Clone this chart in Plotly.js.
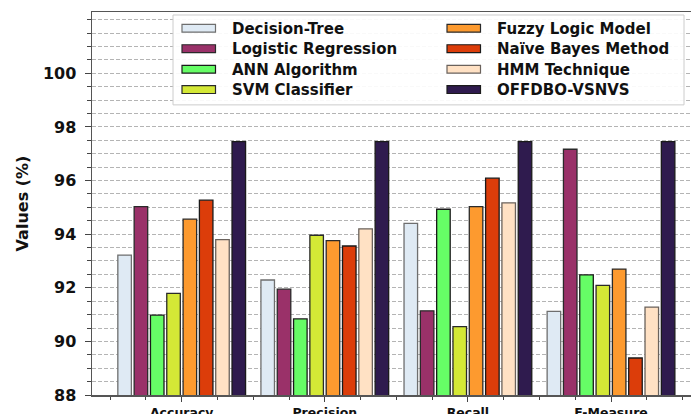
<!DOCTYPE html>
<html>
<head>
<meta charset="utf-8">
<script src="https://cdn.plot.ly/plotly-3.0.1.min.js"></script>
<style>
html, body { margin: 0; padding: 0; background: #fff; }
#chart { width: 691px; height: 414px; }
</style>
</head>
<body>
<div id="chart"></div>
<script>
// ---- Data ----
const categories = ['Accuracy', 'Precision', 'Recall', 'F-Measure'];
const seriesNames = ['Decision-Tree', 'Logistic Regression', 'ANN Algorithm', 'SVM Classifier',
                     'Fuzzy Logic Model', 'Naïve Bayes Method', 'HMM Technique', 'OFFDBO-VSNVS'];
const decisionTree       = [93.22, 92.29, 94.40, 91.12];
const logisticRegression = [95.03, 91.95, 91.14, 97.17];
const annAlgorithm       = [90.98, 90.84, 94.93, 92.48];
const svmClassifier      = [91.79, 93.96, 90.55, 92.09];
const fuzzyLogicModel    = [94.56, 93.76, 95.03, 92.70];
const naiveBayesMethod   = [95.27, 93.56, 96.09, 89.38];
const hmmTechnique       = [93.80, 94.20, 95.17, 91.28];
const offdboVsnvs        = [97.45, 97.45, 97.45, 97.45];
const yTickVals = [88, 90, 92, 94, 96, 98, 100];

// ---- Styles ----
const seriesValues = [decisionTree, logisticRegression, annAlgorithm, svmClassifier,
                      fuzzyLogicModel, naiveBayesMethod, hmmTechnique, offdboVsnvs];
const fillColors = ['#dfeaf4', '#9a3169', '#66fd66', '#d4e836', '#fd9a2f', '#dc3d0a', '#ffe1c4', '#2f1b4e'];
const edgeColors = ['#6e6e6e', '#2a2a2a', '#1a1a1a', '#2a2a2a', '#2a2a2a', '#1a1a1a', '#6a625c', '#1a1a1a'];

const xPos = categories.map((c, i) => i);

const traces = seriesNames.map((name, k) => ({
  type: 'bar',
  name: name,
  x: xPos,
  y: seriesValues[k],
  marker: { color: fillColors[k], line: { color: edgeColors[k], width: 1.3 } },
  showlegend: false,
  hoverinfo: 'name+y'
}));

// plot area in pixels
const L = 92, R = 691, T = 12, B = 395.5;
const px = v => (v - L) / (R - L);
const py = v => (B - v) / (B - T);

const shapes = [];
const annotations = [];
// legend box
const bx0 = px(173), bx1 = px(684), by0 = py(105), by1 = py(15);
shapes.push({
  type: 'rect', xref: 'paper', yref: 'paper', x0: bx0, x1: bx1, y0: by0, y1: by1,
  fillcolor: 'rgba(255,255,255,0.92)', line: { color: '#cccccc', width: 1 }, layer: 'above'
});
const rowY = [28.3, 48.7, 69.3, 89.7];
const swX = [182, 447];
const txtX = [230, 495];
seriesNames.forEach((name, k) => {
  const col = Math.floor(k / 4), row = k % 4;
  shapes.push({
    type: 'rect', xref: 'paper', yref: 'paper',
    x0: px(swX[col]), x1: px(swX[col] + 33.5),
    y0: py(rowY[row] + 3.9), y1: py(rowY[row] - 3.9),
    fillcolor: fillColors[k], line: { color: edgeColors[k], width: 1.2 }, layer: 'above'
  });
  annotations.push({
    xref: 'paper', yref: 'paper', x: px(txtX[col]), y: py(rowY[row] + 0.5),
    xanchor: 'left', yanchor: 'middle', showarrow: false, text: name,
    font: { family: 'DejaVu Sans', size: 15, weight: 'bold', color: '#111' }
  });
});

const layout = {
  width: 691, height: 414,
  margin: { l: L, r: 691 - R, t: T, b: 414 - B, pad: 0 },
  paper_bgcolor: '#ffffff', plot_bgcolor: '#ffffff',
  barmode: 'group', bargap: 0.088, bargroupgap: 0.17,
  showlegend: false,
  xaxis: {
    range: [(L - 181.7) / 143.1, (R - 181.7) / 143.1],
    tickvals: xPos, ticktext: categories,
    ticks: 'outside', ticklen: 5, tickwidth: 1, tickcolor: '#444',
    minor: { dtick: 0.25, tick0: 0, ticks: 'outside', ticklen: 3, tickwidth: 1, tickcolor: '#444', showgrid: false },
    showgrid: false, zeroline: false,
    showline: true, linecolor: '#555', linewidth: 1.5, mirror: true,
    tickfont: { family: 'DejaVu Sans', size: 12.5, weight: 'bold', color: '#111' },
    fixedrange: true
  },
  yaxis: {
    range: [88, 102.29],
    tickvals: yTickVals,
    ticks: 'outside', ticklen: 6, tickwidth: 1, tickcolor: '#444',
    ticklabelstandoff: 5,
    minor: { dtick: 0.5, tick0: 88, ticks: 'outside', ticklen: 3.5, tickwidth: 1, tickcolor: '#444',
             showgrid: true, gridcolor: '#b4b4b4', gridwidth: 1, griddash: '4px,2px' },
    showgrid: true, gridcolor: '#b4b4b4', gridwidth: 1, griddash: '4px,2px',
    zeroline: false,
    showline: true, linecolor: '#555', linewidth: 1.5,
    tickfont: { family: 'DejaVu Sans', size: 16, weight: 'bold', color: '#111' },
    title: { text: 'Values (%)', standoff: 10,
             font: { family: 'DejaVu Sans', size: 16, weight: 'bold', color: '#111' } },
    fixedrange: true
  },
  shapes: shapes,
  annotations: annotations
};

Plotly.newPlot('chart', traces, layout, { displayModeBar: false, staticPlot: true });
</script>
</body>
</html>
